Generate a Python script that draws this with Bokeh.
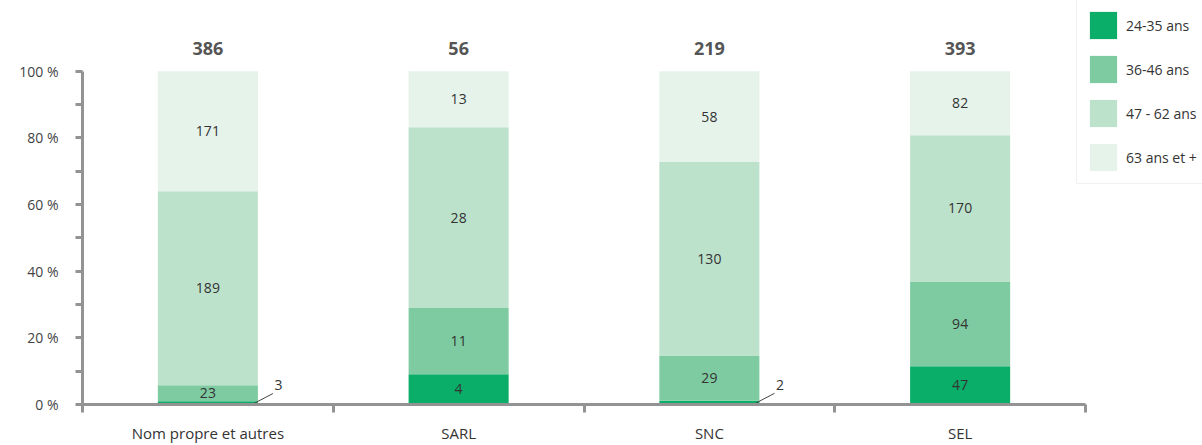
from bokeh.plotting import figure
from bokeh.models import (Range1d, FixedTicker, Legend, LegendItem,
                          ColumnDataSource)
from bokeh.core.properties import value
from bokeh.embed import file_html
from bokeh.resources import INLINE

categories = ["Nom propre et autres", "SARL", "SNC", "SEL"]
groups = ["24-35 ans", "36-46 ans", "47 - 62 ans", "63 ans et +"]
totals = [386, 56, 219, 393]
# counts shown on segments
c_24_35 = [3, 4, 2, 47]
c_36_46 = [23, 11, 29, 94]
c_47_62 = [189, 28, 130, 170]
c_63_plus = [171, 13, 58, 82]
# segment heights (%)
p_24_35 = [1.0, 9.1, 1.1, 11.5]
p_36_46 = [4.8, 19.9, 13.6, 25.4]
p_47_62 = [58.2, 54.2, 58.1, 43.9]
p_63_plus = [36.0, 16.8, 27.2, 19.2]
y_ticks = [0, 20, 40, 60, 80, 100]
y_tick_labels = ["0 %", "20 %", "40 %", "60 %", "80 %", "100 %"]

colors = ["#0BAE68", "#7ECBA1", "#BDE2CC", "#E5F3EB"]
FONT = "Open Sans"

xs = [i + 0.5 for i in range(len(categories))]
pcts = [p_24_35, p_36_46, p_47_62, p_63_plus]
counts = [c_24_35, c_36_46, c_47_62, c_63_plus]

data = {"x": xs}
for g, pv in zip(groups, pcts):
    data[g] = pv
src = ColumnDataSource(data)

# frame: x 82..1202 px, y 0..405 px ; 4 categories over 1003 px, 100 % over 334 px
p = figure(width=1202, height=445, output_backend="svg", toolbar_location=None,
           x_range=Range1d(0, 4 * 1120 / 1003), y_range=Range1d(0, 100 * 405 / 334),
           min_border_left=82, min_border_right=0, min_border_top=0,
           min_border_bottom=40)
p.outline_line_color = None
p.xgrid.visible = False
p.ygrid.visible = False
p.background_fill_color = "white"

bw = 0.399
rs = p.vbar_stack(groups, x="x", width=bw, color=colors, source=src,
                  line_color=None)

# segment labels
inx, iny, intxt = [], [], []
outs = []
for i, x in enumerate(xs):
    base = 0.0
    for k in range(4):
        h = pcts[k][i]
        if h >= 3:
            inx.append(x)
            iny.append(base + h / 2)
            intxt.append(str(counts[k][i]))
        else:
            outs.append((x, base + h / 2, str(counts[k][i])))
        base += h

ls = ColumnDataSource(dict(x=inx, y=iny, t=intxt))
p.text(x="x", y="y", text="t", source=ls, text_align="center",
       text_baseline="middle", text_font=value(FONT),
       text_font_size="14px", text_color="#333333")

ox, oy, ot, sx0, sy0, sx1, sy1 = [], [], [], [], [], [], []
for (x, y, t) in outs:
    right = x + bw / 2
    sx0.append(right - 0.016)
    sy0.append(y - 0.2)
    sx1.append(right + 0.06)
    sy1.append(y + 2.8)
    ox.append(right + 0.066)
    oy.append(y + 5.3)
    ot.append(t)
p.segment(x0=sx0, y0=sy0, x1=sx1, y1=sy1, line_color="#444444", line_width=1)
p.text(x=ox, y=oy, text=ot, text_align="left", text_baseline="middle",
       text_font=value(FONT), text_font_size="14px", text_color="#333333")

# totals
p.text(x=xs, y=[100] * len(xs), text=[str(t) for t in totals], y_offset=-23,
       text_align="center", text_baseline="middle", text_font=value(FONT),
       text_font_size="18px", text_font_style="bold", text_color="#555555")

axis_col = "#939393"
# y axis
ya = p.yaxis[0]
ya.bounds = (0, 100)
ya.ticker = FixedTicker(ticks=y_ticks, minor_ticks=[10, 30, 50, 70, 90])
ya.major_label_overrides = {t: l for t, l in zip(y_ticks, y_tick_labels)}
ya.axis_line_color = axis_col
ya.axis_line_width = 3
ya.major_tick_line_color = axis_col
ya.major_tick_line_width = 3
ya.minor_tick_line_color = axis_col
ya.minor_tick_line_width = 3
ya.major_tick_in = 0
ya.major_tick_out = 7
ya.minor_tick_in = 0
ya.minor_tick_out = 7
ya.major_label_standoff = 17
ya.major_label_text_font = FONT
ya.major_label_text_font_size = "14px"
ya.major_label_text_color = "#444444"

# x axis
xa = p.xaxis[0]
xa.bounds = (0, 4)
xa.ticker = FixedTicker(ticks=xs, minor_ticks=[0, 1, 2, 3, 4])
xa.major_label_overrides = {x: c for x, c in zip(xs, categories)}
xa.axis_line_color = axis_col
xa.axis_line_width = 3
xa.major_tick_line_color = None
xa.major_tick_in = 0
xa.major_tick_out = 0
xa.minor_tick_line_color = axis_col
xa.minor_tick_line_width = 3
xa.minor_tick_in = 0
xa.minor_tick_out = 8
xa.major_label_standoff = 10
xa.major_label_text_font = FONT
xa.major_label_text_font_size = "15px"
xa.major_label_text_color = "#333333"

legend = Legend(items=[LegendItem(label=g, renderers=[r]) for g, r in zip(groups, rs)],
                location=(994, 220), orientation="vertical",
                glyph_width=34, glyph_height=34, spacing=10, padding=9,
                label_standoff=6, label_text_font=FONT,
                label_text_font_size="14px", label_text_color="#333333",
                border_line_color="#e4e4e4", border_line_width=1,
                background_fill_color="white", background_fill_alpha=1,
                margin=0)
p.add_layout(legend)

open("out.html", "w").write(file_html(p, INLINE))
